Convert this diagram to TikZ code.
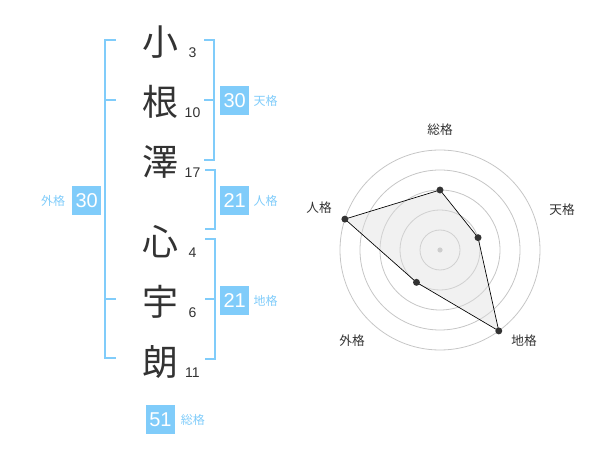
\documentclass[tikz,border=0pt]{standalone}
\usepackage{fontspec}
\setmainfont{Liberation Sans}
\newfontfamily\jpfont{Noto Sans CJK JP}
\usetikzlibrary{positioning}
\definecolor{kakublue}{RGB}{128,204,250}
\definecolor{inkgray}{RGB}{51,51,51}
\begin{document}
\begin{tikzpicture}[x=0.75pt,y=-0.75pt,
    kanji/.style={text=inkgray, inner sep=0, font=\jpfont\fontsize{27}{27}\selectfont},
    stroke/.style={text=inkgray, inner sep=0, font=\fontsize{10.5}{10.5}\selectfont},
    kakubox/.style={fill=kakublue, text=white, minimum size=21.75pt, inner sep=0, font=\fontsize{15}{15}\selectfont},
    kakuname/.style={text=kakublue, inner sep=0, font=\jpfont\fontsize{9}{9}\selectfont},
    bracket/.style={kakublue, line width=1.5pt},
    ring/.style={gray!45, line width=0.6pt},
    axisname/.style={text=inkgray, inner sep=0, font=\jpfont\fontsize{9.5}{9.5}\selectfont},
    dot/.style={circle, fill=inkgray, inner sep=0, minimum size=5.2pt}]
      \useasboundingbox (0,0) rectangle (600,470);

      \node[kanji] (k1) at (160,42) {小};
      \node[kanji] (k2) at (160,102) {根};
      \node[kanji] (k3) at (160,162) {澤};
      \node[kanji] (k4) at (160,242) {心};
      \node[kanji] (k5) at (160,302) {宇};
      \node[kanji] (k6) at (160,362) {朗};

      \node[stroke] (s1) at (192.5,53) {3};
      \node[stroke] (s2) at (192.5,113) {10};
      \node[stroke] (s3) at (192.5,173) {17};
      \node[stroke] (s4) at (192.5,253) {4};
      \node[stroke] (s5) at (192.5,313) {6};
      \node[stroke] (s6) at (192.5,373) {11};

      \draw[bracket] (115.7,40) -- (105,40) -- (105,358.5) -- (115.7,358.5);
      \draw[bracket] (105,100) -- (115.7,100);
      \draw[bracket] (105,299.5) -- (115.7,299.5);
      \draw[bracket] (204.3,40) -- (214.3,40) -- (214.3,160) -- (204.3,160);
      \draw[bracket] (204.3,100) -- (214.3,100);
      \draw[bracket] (205,170) -- (215,170) -- (215,229.5) -- (205,229.5);
      \draw[bracket] (205,239.5) -- (215,239.5) -- (215,359.5) -- (205,359.5);
      \draw[bracket] (205,299.5) -- (215,299.5);

      \node[kakubox] (ten) at (234.7,100.5) {30};
      \node[kakuname, right=3pt of ten] (tenname) {天格};
      \node[kakubox] (jin) at (234.7,200.5) {21};
      \node[kakuname, right=3pt of jin] (jinname) {人格};
      \node[kakubox] (chi) at (234.7,300.5) {21};
      \node[kakuname, right=3pt of chi] (chiname) {地格};
      \node[kakubox] (gai) at (86.7,200.5) {30};
      \node[kakuname, left=5pt of gai] (gainame) {外格};
      \node[kakubox] (sou) at (160.5,419.5) {51};
      \node[kakuname, right=4pt of sou] (souname) {総格};

      \begin{scope}[shift={(440,250)}, y=0.75pt]
        \foreach \r in {20,40,...,100}
          \draw[ring] (0,0) circle (\r);
        \fill[gray!50] (0,0) circle (2.6);

        \coordinate (vsou) at (90:60);
        \coordinate (vten) at (18:40);
        \coordinate (vchi) at (-54:100);
        \coordinate (vgai) at (-126:40);
        \coordinate (vjin) at (162:100);
        \draw[black, line width=0.5pt, fill=gray!25, fill opacity=0.45]
          (vsou) -- (vten) -- (vchi) -- (vgai) -- (vjin) -- cycle;
        \foreach \v in {vsou,vten,vchi,vgai,vjin}
          \node[dot] at (\v) {};

        \node[axisname] (asou) at (0,120) {総格};
        \node[axisname] (aten) at (122,40) {天格};
        \node[axisname] (achi) at (84,-91) {地格};
        \node[axisname] (agai) at (-88,-91) {外格};
        \node[axisname] (ajin) at (-121,42) {人格};
      \end{scope}
\end{tikzpicture}
\end{document}
